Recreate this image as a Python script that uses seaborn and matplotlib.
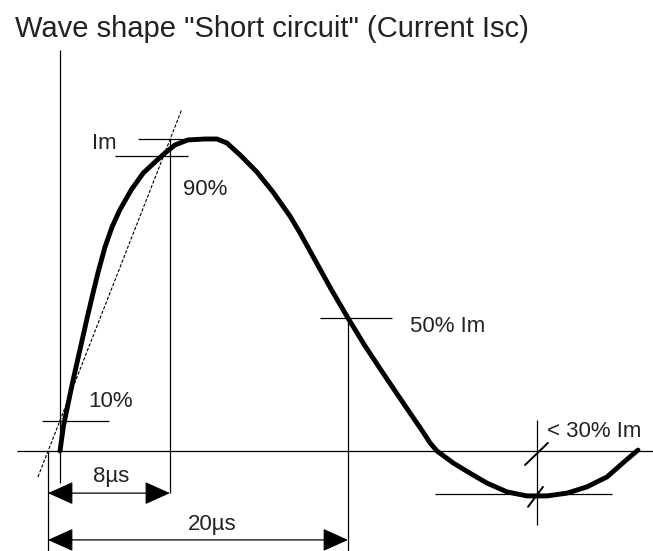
import matplotlib
matplotlib.use("Agg")
import matplotlib.pyplot as plt
import seaborn as sns
import pandas as pd

# wave shape: time in µs from the virtual origin, current in % of Im
time_us = [0.80, 1.03, 1.63, 2.17, 2.62, 3.05, 3.33, 3.80, 4.27, 4.78, 5.55, 6.35,
           7.13, 7.80, 8.47, 9.33, 10.47, 11.27, 11.93, 12.80, 13.93, 15.00,
           16.13, 16.80, 17.80, 18.87, 20.00, 21.13, 22.33, 23.27, 24.13, 25.00,
           25.47, 25.93, 26.47, 27.00, 28.13, 29.27, 30.60, 31.93, 33.27, 34.60,
           35.93, 37.27, 38.33, 39.33]
current_pct = [0, 8.0, 21.8, 33.3, 42.9, 51.6, 57.1, 65.4, 71.8, 77.2, 83.7, 89.1,
               92.6, 95.5, 98.1, 99.7, 100, 100, 98.7, 94.9, 89.4, 83.0,
               75.3, 69.9, 61.2, 51.9, 42.6, 33.7, 25.0, 18.3, 12.2, 6.1,
               2.6, 0, -1.9, -3.8, -7.1, -10.3, -13.1, -14.4, -14.4, -13.5,
               -11.5, -8.3, -3.8, 0.3]

front_time = 8      # µs
half_time = 20      # µs
undershoot_t = 32.6
undershoot = -13.8  # % of Im

df = pd.DataFrame({"t": time_us, "i": current_pct})

sns.set_style("white")
plt.rcParams["font.family"] = ["Liberation Sans", "DejaVu Sans"]

fig = plt.figure(figsize=(6.53, 5.51), dpi=100)
ax = fig.add_axes([0, 0, 1, 1])
ax.set_xlim(-3.2, 40.333)
ax.set_ylim(-32.05, 144.55)
ax.axis("off")

thin = dict(color="black", lw=0.9, solid_capstyle="butt")

# axes of the diagram
ax.plot([-2.07, 40.33], [0, 0], **thin)
ax.plot([0.8, 0.8], [-10.3, 128.5], **thin)

# the wave
sns.lineplot(data=df, x="t", y="i", ax=ax, color="black", lw=3.5, sort=False,
             estimator=None, solid_joinstyle="round", solid_capstyle="round")
ax.set_xlabel("")
ax.set_ylabel("")

# tangent through 10% / 90%
ax.plot([-0.67, 8.93], [-8.3, 109.6], color="black", lw=0.8, ls=(0, (3, 1.5)))

# level lines
ax.plot([6.0, 10.0], [100, 100], **thin)          # Im
ax.plot([4.47, 9.33], [94.6, 94.6], **thin)       # 90%
ax.plot([-0.4, 4.07], [9.6, 9.6], **thin)         # 10%
ax.plot([18.13, 22.93], [42.6, 42.6], **thin)     # 50%
ax.plot([25.8, 37.6], [undershoot, undershoot], **thin)

# verticals
ax.plot([front_time + 0.13, front_time + 0.13], [100, -13.5], **thin)
ax.plot([0, 0], [0, -32.05], **thin)
ax.plot([half_time, half_time], [42.6, -32.05], **thin)
ax.plot([undershoot_t, undershoot_t], [9.9, -23.7], **thin)

# slash ticks on the undershoot dimension
ax.plot([31.8, 33.33], [-4.5, 2.6], color="black", lw=1.4)
ax.plot([32.0, 33.0], [-17.9, -11.5], color="black", lw=1.4)

# dimension arrows
arrow = dict(arrowstyle="<|-|>,head_length=0.8,head_width=0.36", color="black",
             lw=0.9, shrinkA=0, shrinkB=0, mutation_scale=20)
ax.annotate("", xy=(0, -13.5), xytext=(front_time + 0.13, -13.5), arrowprops=arrow)
ax.annotate("", xy=(0, -28.5), xytext=(half_time, -28.5), arrowprops=arrow)

# labels
lab = dict(fontsize=16, color="#222222", va="baseline", ha="left")
ax.text(2.93, 96.8, "Im", **lab)
ax.text(9.0, 82.0, "90%", **lab)
ax.text(2.67, 14.1, "10%", **lab)
ax.text(3.0, -9.9, "8µs", **lab)
ax.text(9.33, -25.3, "20µs", **lab)
ax.text(24.13, 38.1, "50% Im", **lab)
ax.text(33.27, 4.5, "< 30% Im", **lab)

fig.text(15 / 653, 1 - 37 / 551, 'Wave shape "Short circuit" (Current Isc)',
         fontsize=21, color="#222222", ha="left", va="baseline")

fig.savefig("out.png", dpi=100)
